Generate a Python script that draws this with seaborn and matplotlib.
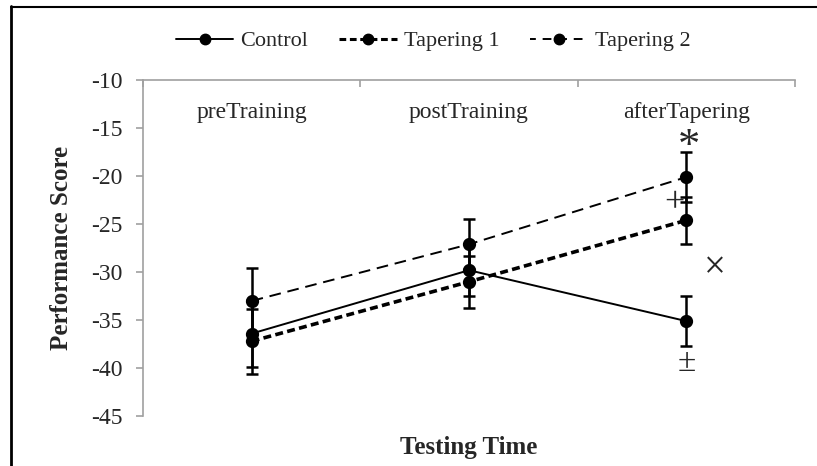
import pandas as pd
import matplotlib.pyplot as plt
from matplotlib.lines import Line2D
import seaborn as sns

# datos
tiempos = ['preTraining', 'postTraining', 'afterTapering']
grupos = ['Control', 'Tapering 1', 'Tapering 2']
control = [-36.4, -29.8, -35.1]
tapering1 = [-37.2, -31.0, -24.6]
tapering2 = [-33.0, -27.1, -20.1]
sd_control = [3.5, 2.7, 2.6]
sd_tapering1 = [3.4, 2.7, 2.45]
sd_tapering2 = [3.4, 2.6, 2.6]

df = pd.DataFrame({
    'Tiempo': tiempos * 3,
    'Grupo': [g for g in grupos for _ in tiempos],
    'Score': control + tapering1 + tapering2,
    'SD': sd_control + sd_tapering1 + sd_tapering2,
})

sns.set_style('white')
plt.rcParams['font.family'] = ['Liberation Serif', 'DejaVu Serif']

estilos = {'Control': ('-', 1.4), 'Tapering 1': ((0, (2.2, 1.2)), 2.6), 'Tapering 2': ((0, (6, 3.5)), 1.4)}
estilos_leyenda = {'Control': ('-', 1.4), 'Tapering 1': ((0, (2.2, 1.2)), 2.2), 'Tapering 2': ((1.5, (4.5, 3.5)), 1.4)}

fig = plt.figure(figsize=(8.17, 4.66), dpi=100)
ax = fig.add_axes([0.175, 0.107, 0.798, 0.721])

sns.pointplot(data=df, x='Tiempo', y='Score', hue='Grupo', order=tiempos, hue_order=grupos,
              palette=['black'] * 3, markers='o', errorbar=None, ax=ax,
              linestyles=[estilos[g][0] for g in grupos], markersize=7.5, legend=False)

# grosor de cada linea
for line, g in zip(ax.lines, grupos):
    line.set_linewidth(estilos[g][1])

# barras de error
for g in grupos:
    sub = df[df['Grupo'] == g]
    ax.errorbar(range(len(tiempos)), sub['Score'], yerr=sub['SD'], fmt='none',
                ecolor='black', elinewidth=1.8, capsize=4.5, capthick=1.8, zorder=1)

ax.set_xlim(-0.5, 2.5)
ax.set_ylim(-45, -10)
ax.set_yticks(range(-45, -9, 5))
ax.set_yticklabels([str(v) for v in range(-45, -9, 5)], fontsize=17)
ax.set_xticks([-0.5, 0.5, 1.5, 2.5])
ax.set_xticklabels([])
ax.xaxis.set_ticks_position('top')
ax.tick_params(axis='x', direction='in', length=5, color='#a0a0a0', width=1.2)
ax.tick_params(axis='y', direction='out', length=5, color='#a0a0a0', width=1.2, left=True, pad=10)
for s in ['bottom', 'right']:
    ax.spines[s].set_visible(False)
for s in ['top', 'left']:
    ax.spines[s].set_color('#a0a0a0')
    ax.spines[s].set_linewidth(1.2)

for i, t in enumerate(tiempos):
    ax.text(i, -13.4, t, ha='center', va='center', fontsize=17)

ax.set_ylabel('Performance Score', fontsize=18, fontweight='bold', labelpad=13)

# marcas de significancia
ax.text(2.01, -17.0, '*', ha='center', va='center', fontsize=32)
ax.text(1.945, -22.9, '+', ha='center', va='center', fontsize=26)
ax.text(2.13, -29.6, '×', ha='center', va='center', fontsize=28)
ax.text(2.0, -39.4, '±', ha='center', va='center', fontsize=24)

handles = [Line2D([], [], color='black', linestyle=estilos_leyenda[g][0], linewidth=estilos_leyenda[g][1],
                  marker='o', markersize=7.5) for g in grupos]
fig.legend(handles, grupos, loc='center', bbox_to_anchor=(0.53, 0.912), ncol=3,
           frameon=False, fontsize=16, handlelength=2.6, columnspacing=1.4, handletextpad=0.3)

# marco parcial de la figura
fig.add_artist(Line2D([0.014, 0.014], [0.0, 0.987], color='black', linewidth=2, transform=fig.transFigure))
fig.add_artist(Line2D([0.013, 1.0], [0.986, 0.986], color='black', linewidth=1.5, transform=fig.transFigure))

ax.set_xlabel('Testing Time', fontsize=18, fontweight='bold', labelpad=14)
ax.xaxis.set_label_position('bottom')

fig.savefig('out.png', dpi=100)
